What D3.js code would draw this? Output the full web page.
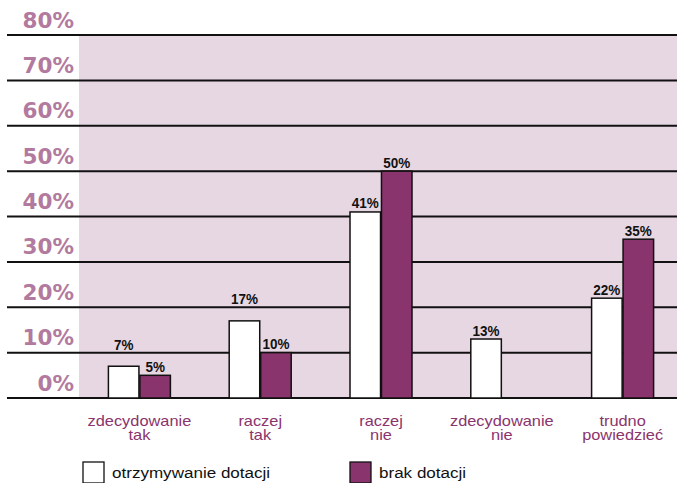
<!DOCTYPE html>
<html><head><meta charset="utf-8">
<script src="https://cdn.jsdelivr.net/npm/d3@7"></script>
<style>body{margin:0;background:#fff}svg{display:block}</style>
</head><body>
<svg id="c" width="677" height="483"></svg>
<script>
const categories = [["zdecydowanie","tak"],["raczej","tak"],["raczej","nie"],["zdecydowanie","nie"],["trudno","powiedzieć"]];
const seriesNames = ["otrzymywanie dotacji","brak dotacji"];
const otrzymywanie = [7,17,41,13,22];
const brak = [5,10,50,null,35];
const yTicks = [0,10,20,30,40,50,60,70,80];
const tickLabels = ["0%","10%","20%","30%","40%","50%","60%","70%","80%"];

const colors = {white:"#ffffff", purple:"#8a346d", bg:"#e7d7e2", ylab:"#b27a9e", cat:"#8a346d"};
const svg = d3.select("#c");
const W = 677;
const y = d3.scaleLinear().domain([0,80]).range([398,35]);
const x0 = d3.scaleBand().domain(d3.range(categories.length)).range([79,683]);
const x1 = d3.scaleBand().domain([0,1]).range([-31,31]).paddingInner(0.03);

// background
svg.append("rect").attr("x",79).attr("y",y(80)).attr("width",W-79).attr("height",y(0)-y(80)).attr("fill",colors.bg);

// gridlines
svg.selectAll("line.grid").data(yTicks).enter().append("line")
  .attr("x1",7).attr("x2",W).attr("y1",d=>y(d)).attr("y2",d=>y(d))
  .attr("stroke","#111").attr("stroke-width",2);

// y labels
svg.selectAll("text.ylab").data(yTicks).enter().append("text")
  .attr("transform",d=>`translate(74,${y(d)-7.5}) scale(1.05,1)`)
  .attr("text-anchor","end").attr("font-family","DejaVu Sans, sans-serif")
  .attr("font-weight","bold").attr("font-size",20.5).attr("fill",colors.ylab)
  .text((d,i)=>tickLabels[i]);

// bars
const series = [otrzymywanie, brak];
const fills = [colors.white, colors.purple];
const bars = [];
series.forEach((vals,s)=>vals.forEach((v,i)=>{ if(v!=null) bars.push({s,i,v}); }));
svg.selectAll("rect.bar").data(bars).enter().append("rect")
  .attr("x",d=>x0(d.i)+x0.bandwidth()/2+x1(d.s))
  .attr("width",x1.bandwidth())
  .attr("y",d=>y(d.v)).attr("height",d=>y(0)-y(d.v))
  .attr("fill",d=>fills[d.s]).attr("stroke","#111").attr("stroke-width",1.5);

// value labels
const capH = 11;
function labelBase(v){
  let b = y(v)-3.5;
  for(const t of yTicks){
    const ly = y(t);
    if(ly>b-capH-1 && ly<b+1){ b = ly-3; }
  }
  return b;
}
svg.selectAll("text.val").data(bars).enter().append("text")
  .attr("transform",d=>`translate(${x0(d.i)+x0.bandwidth()/2+x1(d.s)+x1.bandwidth()/2},${labelBase(d.v)}) scale(0.9,1)`)
  .attr("text-anchor","middle").attr("font-family","Liberation Sans, Arial, sans-serif")
  .attr("font-weight","bold").attr("font-size",15).attr("fill","#111")
  .text(d=>d.v+"%");

// category labels
const cat = svg.selectAll("g.cat").data(categories).enter().append("g")
  .attr("transform",(d,i)=>`translate(${x0(i)+x0.bandwidth()/2},425.5) scale(1.17,1)`);
cat.selectAll("text").data(d=>d).enter().append("text")
  .attr("y",(d,j)=>j*14.5).attr("text-anchor","middle")
  .attr("font-family","Liberation Sans, Arial, sans-serif").attr("font-size",14)
  .attr("fill",colors.cat).text(d=>d);

// legend
const legX = [83,350];
const leg = svg.selectAll("g.leg").data(seriesNames).enter().append("g")
  .attr("transform",(d,i)=>`translate(${legX[i]},462)`);
leg.append("rect").attr("x",0).attr("y",0).attr("width",21).attr("height",21)
  .attr("fill",(d,i)=>fills[i]).attr("stroke","#111").attr("stroke-width",1.3);
leg.append("text").attr("transform","translate(29,16) scale(1.1,1)")
  .attr("font-family","Liberation Sans, Arial, sans-serif").attr("font-size",15.5)
  .attr("fill","#111").text(d=>d);
</script>
</body></html>
